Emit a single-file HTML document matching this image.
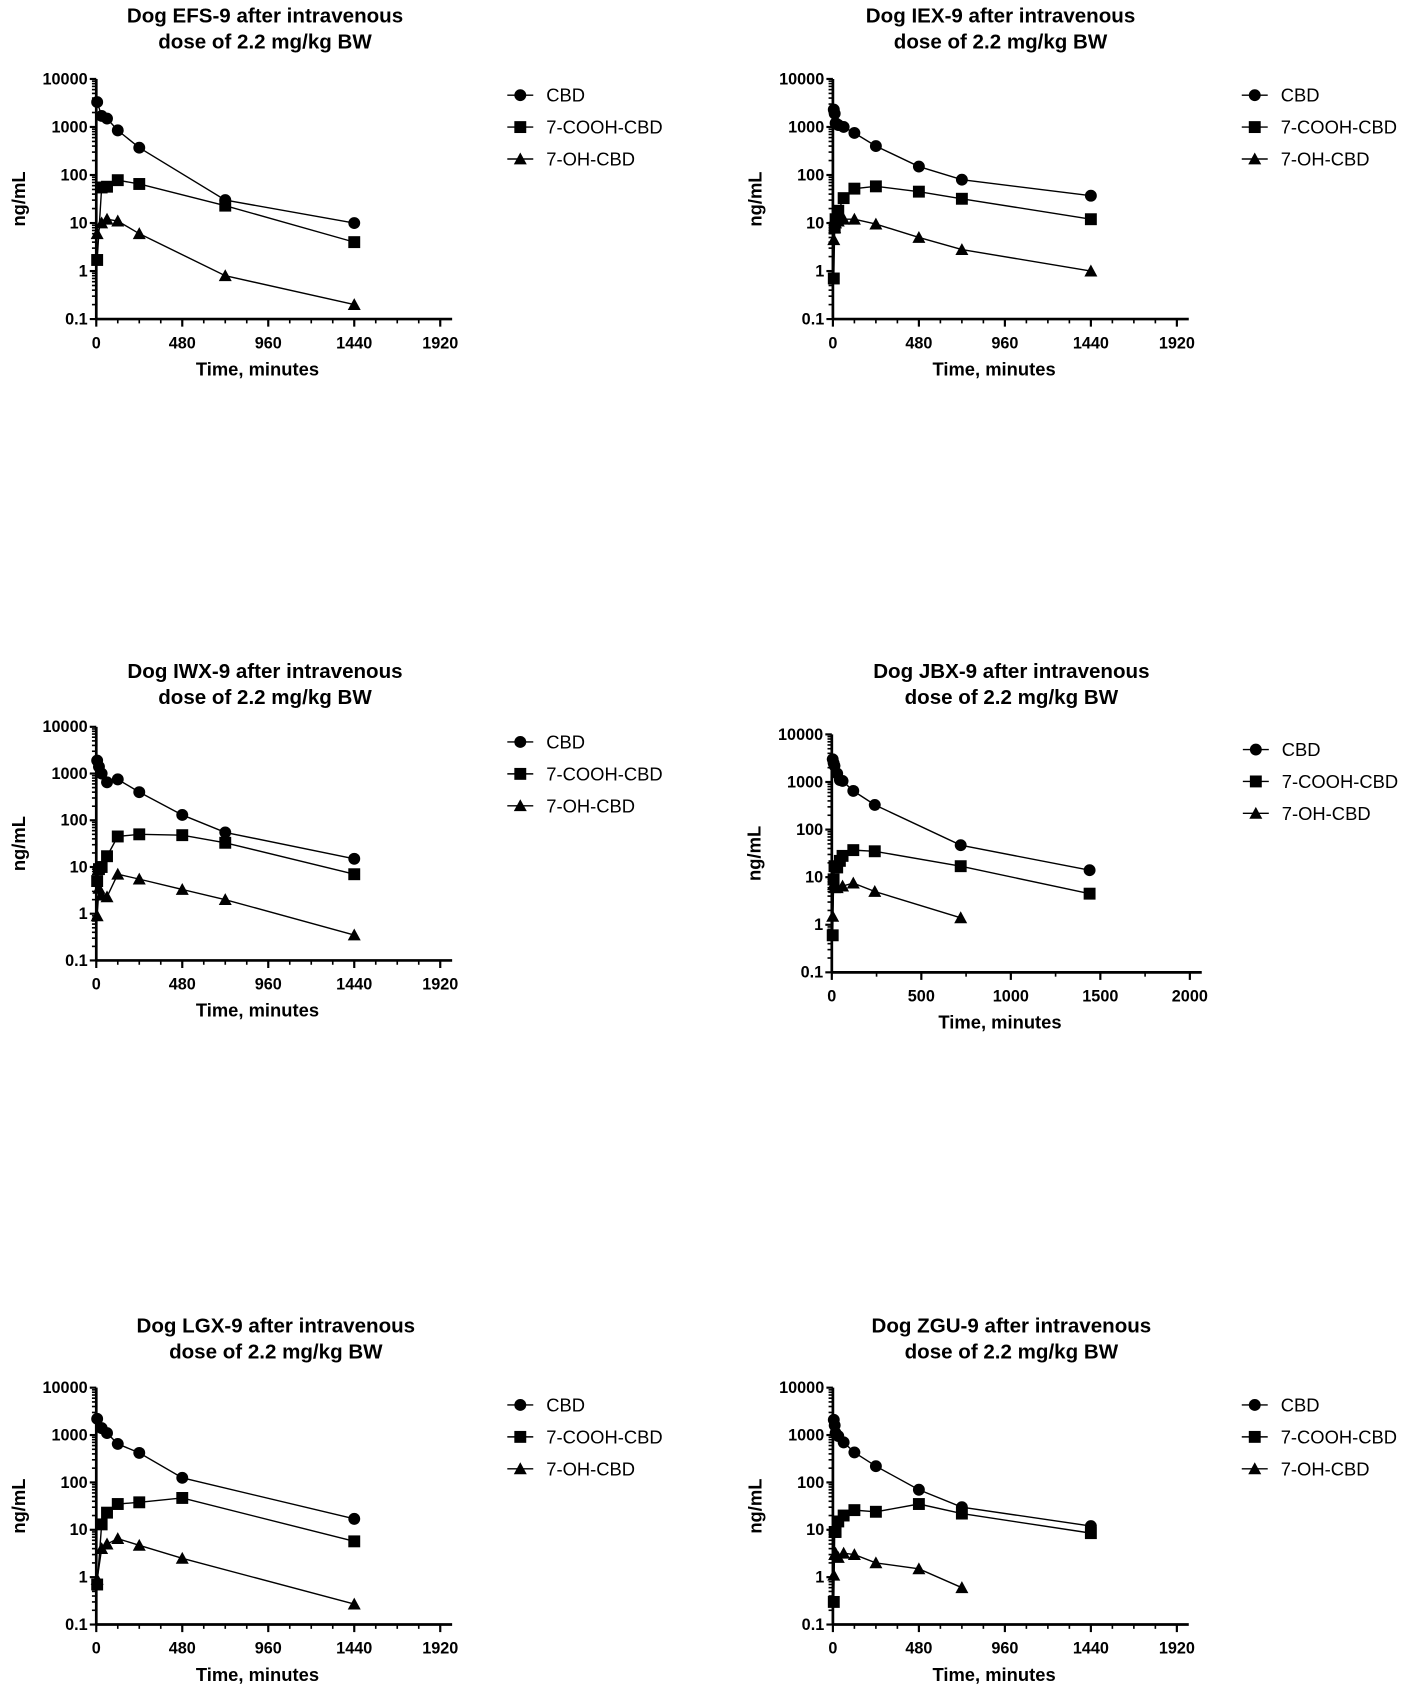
<!DOCTYPE html>
<html><head><meta charset="utf-8"><style>
html,body{margin:0;padding:0;background:#fff;}
svg{display:block;}
text{font-family:"Liberation Sans",Arial,sans-serif;fill:#000;}
</style></head><body>
<svg id="chart" width="1417" height="1697" viewBox="0 0 1310 1569" preserveAspectRatio="none" xmlns="http://www.w3.org/2000/svg"></svg>
<script>
// ---- data ----
const panelTitles = ["Dog EFS-9 after intravenous","Dog IEX-9 after intravenous","Dog IWX-9 after intravenous","Dog JBX-9 after intravenous","Dog LGX-9 after intravenous","Dog ZGU-9 after intravenous"];
const seriesNames = ["CBD","7-COOH-CBD","7-OH-CBD"];
const yTickLabels = ["0.1","1","10","100","1000","10000"];
const yTickValues = [0.1,1,10,100,1000,10000];
const xTicksA = [0,480,960,1440,1920];
const xTicksB = [0,500,1000,1500,2000];

const efsT = [5,30,60,120,240,720,1440];
const efsCBD = [3300,1700,1500,850,370,30,10];
const efsCOOH = [1.7,55,57,78,65,23,4];
const efsOH = [6,10,12,11,6,0.8,0.2];

const iexT = [5,10,15,30,60,120,240,480,720,1440];
const iexCBD = [2300,1900,1200,1100,1000,750,400,150,80,37];
const iexCOOH = [0.7,8,12,18,33,52,58,45,32,12];
const iexOH = [4.5,8,10,11,12,12,9.5,5,2.8,1];

const iwxT = [5,15,30,60,120,240,480,720,1440];
const iwxCBD = [1900,1400,1000,650,750,400,130,55,15];
const iwxCOOH = [5,9,10,17,45,50,48,33,7];
const iwxOH = [0.9,3.5,2.5,2.3,7,5.5,3.3,2,0.35];

const jbxT = [5,10,15,30,45,60,120,240,720,1440];
const jbxCBD = [3000,2500,2200,1500,1100,1050,650,330,47,14];
const jbxCOOH = [0.6,9,17,16,22,28,37,35,17,4.5];
const jbxOHT = [5,10,15,30,60,120,240,720];
const jbxOH = [1.5,7,6,6,6.5,7.5,5,1.4];

const lgxT = [5,30,60,120,240,480,1440];
const lgxCBD = [2200,1400,1100,650,420,125,17];
const lgxCOOH = [0.7,13,23,35,38,47,5.7];
const lgxOH = [0.9,4,5,6.5,4.7,2.5,0.27];

const zguT = [5,10,15,30,60,120,240,480,720,1440];
const zguCBD = [2100,1600,1100,950,700,430,220,70,30,12];
const zguCOOH = [0.3,9,9,15,20,26,24,35,22,8.5];
const zguOHT = [5,10,15,30,60,120,240,480,720];
const zguOH = [1.1,3,3.2,2.6,3.2,3.0,2.0,1.5,0.6];

const panels = [
 {title:panelTitles[0],ax:89,top:73,bot:295,xmax:1920,xr:407,ticks:xTicksA,minor:120,tcx:245,ty:8,lx:481,ly:88,series:[[efsT,efsCBD],[efsT,efsCOOH],[efsT,efsOH]]},
 {title:panelTitles[1],ax:770,top:73,bot:295,xmax:1920,xr:1088,ticks:xTicksA,minor:120,tcx:925,ty:8,lx:1160,ly:88,series:[[iexT,iexCBD],[iexT,iexCOOH],[iexT,iexOH]]},
 {title:panelTitles[2],ax:89,top:672,bot:888,xmax:1920,xr:407,ticks:xTicksA,minor:120,tcx:245,ty:614,lx:481,ly:686,series:[[iwxT,iwxCBD],[iwxT,iwxCOOH],[iwxT,iwxOH]]},
 {title:panelTitles[3],ax:769,top:679,bot:899,xmax:2000,xr:1100,ticks:xTicksB,minor:250,tcx:935,ty:614,lx:1161,ly:693,series:[[jbxT,jbxCBD],[jbxT,jbxCOOH],[jbxOHT,jbxOH]]},
 {title:panelTitles[4],ax:89,top:1283,bot:1502,xmax:1920,xr:407,ticks:xTicksA,minor:120,tcx:255,ty:1219,lx:481,ly:1299,series:[[lgxT,lgxCBD],[lgxT,lgxCOOH],[lgxT,lgxOH]]},
 {title:panelTitles[5],ax:770,top:1283,bot:1502,xmax:1920,xr:1088,ticks:xTicksA,minor:120,tcx:935,ty:1219,lx:1160,ly:1299,series:[[zguT,zguCBD],[zguT,zguCOOH],[zguOHT,zguOH]]}
];

const NS="http://www.w3.org/2000/svg";
const svg=document.getElementById('chart');
function mk(tag,attrs,parent){const e=document.createElementNS(NS,tag);for(const k in attrs)e.setAttribute(k,attrs[k]);(parent||svg).appendChild(e);return e;}
function marker(kind,x,y,g){
  if(kind===0) return mk('circle',{cx:x,cy:y,r:5.5,fill:'#000'},g);
  if(kind===1) return mk('rect',{x:x-5.5,y:y-5.5,width:11,height:11,fill:'#000'},g);
  return mk('polygon',{points:`${x},${y-6} ${x+6},${y+5} ${x-6},${y+5}`,fill:'#000'},g);
}
panels.forEach((p,pi)=>{
  const g=mk('g',{});
  
  
  const xs=v=>p.ax+(v/p.xmax)*(p.xr-p.ax);
  const ys=v=>p.bot-(Math.log10(v)+1)/5*(p.bot-p.top);
  const t1=mk('text',{x:p.tcx,y:p.ty+13,'text-anchor':'middle','font-size':19,'font-weight':'bold'},g);
  t1.textContent=p.title;
  
  
  const t2=mk('text',{x:p.tcx,y:p.ty+37,'text-anchor':'middle','font-size':19,'font-weight':'bold'},g);
  t2.textContent="dose of 2.2 mg/kg BW";
  
  
  const ya=mk('line',{x1:p.ax,y1:p.top,x2:p.ax,y2:p.bot,stroke:'#000','stroke-width':2.5},g);
  
  
  const xa=mk('line',{x1:p.ax,y1:p.bot,x2:p.xr+11,y2:p.bot,stroke:'#000','stroke-width':2.5},g);
  
  
  yTickValues.forEach((v,i)=>{
    const y=ys(v);
    mk('line',{x1:p.ax-6,y1:y,x2:p.ax,y2:y,stroke:'#000','stroke-width':2},g);
    const tl=mk('text',{x:p.ax-8,y:y+5,'text-anchor':'end','font-size':15,'font-weight':'bold'},g);
    tl.textContent=yTickLabels[i];
    
    
    if(i<yTickValues.length-1){for(let m=2;m<10;m++){const ym=ys(v*m);mk('line',{x1:p.ax-4,y1:ym,x2:p.ax,y2:ym,stroke:'#000','stroke-width':1.5},g);}}
  });
  for(let t=0;t<=p.xmax;t+=p.minor){const x=xs(t);mk('line',{x1:x,y1:p.bot,x2:x,y2:p.bot+4,stroke:'#000','stroke-width':1.5},g);}
  p.ticks.forEach(t=>{
    const x=xs(t);
    mk('line',{x1:x,y1:p.bot,x2:x,y2:p.bot+7,stroke:'#000','stroke-width':2},g);
    const tl=mk('text',{x:x,y:p.bot+27,'text-anchor':'middle','font-size':15,'font-weight':'bold'},g);
    tl.textContent=String(t);
    
    
  });
  const xt=mk('text',{x:(p.ax+p.xr)/2-10,y:p.bot+52,'text-anchor':'middle','font-size':17,'font-weight':'bold'},g);
  xt.textContent="Time, minutes";
  
  
  const yc=(p.top+p.bot)/2;
  const yt=mk('text',{x:p.ax-66,y:yc,'text-anchor':'middle','font-size':17,'font-weight':'bold',transform:`rotate(-90 ${p.ax-66} ${yc})`},g);
  yt.textContent="ng/mL";
  
  
  p.series.forEach((s,si)=>{
    const sg=mk('g',{},g);
    
    
    const pts=s[0].map((t,i)=>xs(t)+','+ys(s[1][i])).join(' ');
    mk('polyline',{points:pts,fill:'none',stroke:'#000','stroke-width':1.3},sg);
    s[0].forEach((t,i)=>{
      const m=marker(si,xs(t),ys(s[1][i]),sg);
      
      
    });
    const ly=p.ly+si*29.5;
    const lg=mk('g',{},g);
    
    
    mk('line',{x1:p.lx-12,y1:ly,x2:p.lx+12,y2:ly,stroke:'#000','stroke-width':1.3},lg);
    marker(si,p.lx,ly,lg);
    const lt=mk('text',{x:p.lx+24,y:ly+6,'font-size':17},lg);
    lt.textContent=seriesNames[si];
  });
});
</script>
</body></html>
